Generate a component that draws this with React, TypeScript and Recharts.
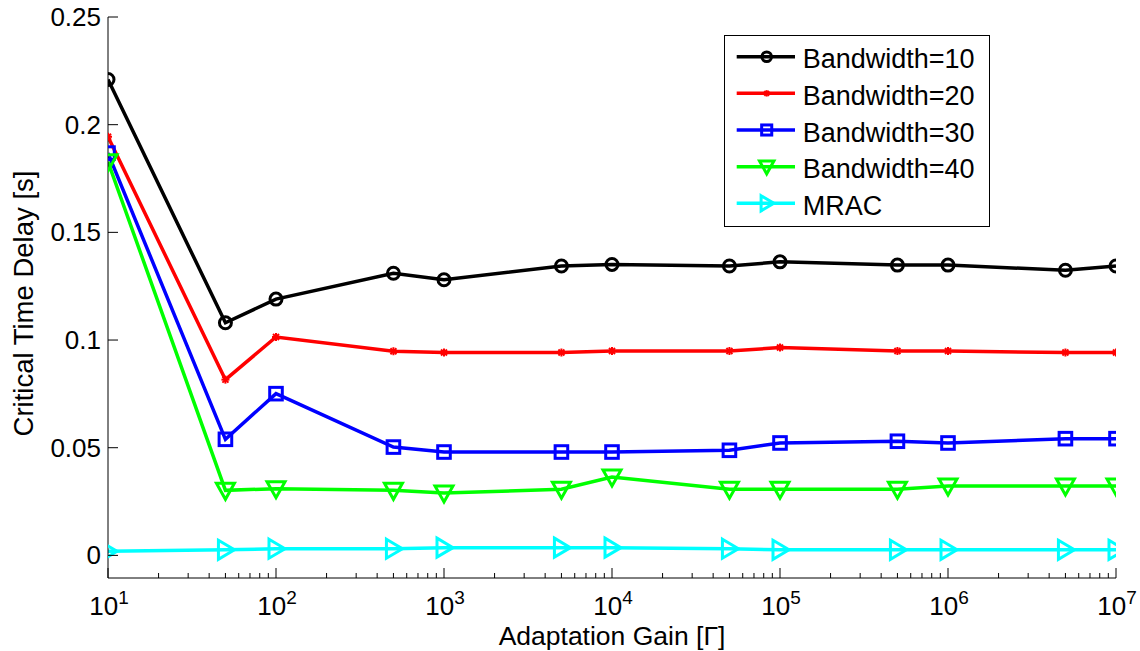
import React from 'react';
import { LineChart, Line, XAxis, YAxis, Legend } from 'recharts';

const gains = [10, 50, 100, 500, 1000, 5000, 1e4, 5e4, 1e5, 5e5, 1e6, 5e6, 1e7];
const bw10 = [0.221, 0.108, 0.119, 0.131, 0.128, 0.1344, 0.1351, 0.1344, 0.1363, 0.1348, 0.1348, 0.1324, 0.1344];
const bw20 = [0.1944, 0.0816, 0.1014, 0.0948, 0.0942, 0.0942, 0.0949, 0.0949, 0.0965, 0.0949, 0.0949, 0.0942, 0.0942];
const bw30 = [0.1868, 0.0539, 0.0751, 0.0503, 0.048, 0.048, 0.048, 0.0488, 0.0522, 0.053, 0.0522, 0.0542, 0.0542];
const bw40 = [0.1828, 0.0302, 0.031, 0.0302, 0.029, 0.0307, 0.0364, 0.0307, 0.0307, 0.0307, 0.0322, 0.0322, 0.0322];
const mrac = [0.0019, 0.0026, 0.0031, 0.0031, 0.0036, 0.0036, 0.0036, 0.0031, 0.0026, 0.0026, 0.0026, 0.0026, 0.0026];

const majorXTicks = [10, 100, 1000, 1e4, 1e5, 1e6, 1e7];
const minorMultipliers = [2, 3, 4, 5, 6, 7, 8, 9];
const yTicks = [0, 0.05, 0.1, 0.15, 0.2, 0.25];
const yTickLabels = ['0', '0.05', '0.1', '0.15', '0.2', '0.25'];
const xDomain = [10, 1e7];
const yDomain = [-0.0105, 0.25];

const FONT = '"Liberation Sans", Arial, Helvetica, sans-serif';

const allXTicks: number[] = [];
majorXTicks.forEach((m, i) => {
  allXTicks.push(m);
  if (i < majorXTicks.length - 1) minorMultipliers.forEach((k) => allXTicks.push(m * k));
});

type Shape = 'circle' | 'star' | 'square' | 'down' | 'right';
const series: { name: string; color: string; shape: Shape; values: number[] }[] = [
  { name: 'Bandwidth=10', color: '#000000', shape: 'circle', values: bw10 },
  { name: 'Bandwidth=20', color: '#ff0000', shape: 'star', values: bw20 },
  { name: 'Bandwidth=30', color: '#0000ff', shape: 'square', values: bw30 },
  { name: 'Bandwidth=40', color: '#00ff00', shape: 'down', values: bw40 },
  { name: 'MRAC', color: '#00ffff', shape: 'right', values: mrac },
];

function marker(shape: Shape, cx: number, cy: number, color: string, s = 1, key?: string) {
  const sw = 3;
  if (shape === 'circle') {
    return <circle key={key} cx={cx} cy={cy} r={6 * s} fill="none" stroke={color} strokeWidth={sw} />;
  }
  if (shape === 'square') {
    const h = 6.3 * s;
    return <rect key={key} x={cx - h} y={cy - h} width={2 * h} height={2 * h} fill="none" stroke={color} strokeWidth={sw} />;
  }
  if (shape === 'down') {
    const w = 9 * s, t = 7 * s, b = 9 * s;
    return <polygon key={key} points={`${cx - w},${cy - t} ${cx + w},${cy - t} ${cx},${cy + b}`} fill="none" stroke={color} strokeWidth={sw} strokeLinejoin="miter" />;
  }
  if (shape === 'right') {
    const l = 7 * s, r = 9 * s, h = 9.5 * s;
    return <polygon key={key} points={`${cx - l},${cy - h} ${cx + r},${cy} ${cx - l},${cy + h}`} fill="none" stroke={color} strokeWidth={sw} strokeLinejoin="miter" />;
  }
  const a = 4 * s, d = 3 * s;
  return (
    <g key={key} stroke={color} strokeWidth={2}>
      <line x1={cx - a} x2={cx + a} y1={cy} y2={cy} />
      <line x1={cx} x2={cx} y1={cy - a} y2={cy + a} />
      <line x1={cx - d} x2={cx + d} y1={cy - d} y2={cy + d} />
      <line x1={cx - d} x2={cx + d} y1={cy + d} y2={cy - d} />
    </g>
  );
}

const isMajor = (v: number) => majorXTicks.some((m) => Math.abs(m - v) < 1e-6 * m);

const BottomTick = (props: any) => {
  const { x, y, payload } = props;
  const v = payload.value;
  const major = isMajor(v);
  const exp = Math.round(Math.log10(v));
  return (
    <g>
      <line x1={x} x2={x} y1={y} y2={y - (major ? 10 : 5)} stroke="#000" strokeWidth={1} />
      {major && (
        <text x={x + 1} y={y + 37} textAnchor="middle" fontFamily={FONT} fontSize={26} fill="#000">
          <tspan>10</tspan>
          <tspan dy={-11} fontSize={19}>{exp}</tspan>
        </text>
      )}
    </g>
  );
};

const TopTick = (props: any) => {
  const { x, y, payload } = props;
  const major = isMajor(payload.value);
  return <line x1={x} x2={x} y1={y} y2={y + (major ? 10 : 5)} stroke="#000" strokeWidth={1} />;
};

const LeftTick = (props: any) => {
  const { x, y, payload, index } = props;
  const label = yTickLabels[yTicks.indexOf(payload.value)] ?? String(payload.value);
  return (
    <g key={index}>
      <line x1={x} x2={x + 10} y1={y} y2={y} stroke="#000" strokeWidth={1} />
      <text x={x - 7} y={y + 9} textAnchor="end" fontFamily={FONT} fontSize={26} fill="#000">{label}</text>
    </g>
  );
};

const RightTick = (props: any) => {
  const { x, y } = props;
  return <line x1={x} x2={x - 10} y1={y} y2={y} stroke="#000" strokeWidth={1} />;
};

const XLabel = (props: any) => {
  const vb = props.viewBox || { x: 108, y: 578, width: 1008, height: 73 };
  return (
    <text x={vb.x + vb.width / 2} y={vb.y + 67} textAnchor="middle" fontFamily={FONT} fontSize={26.5} fill="#000">
      Adaptation Gain [Γ]
    </text>
  );
};

const YLabel = (props: any) => {
  const vb = props.viewBox || { x: 0, y: 17, width: 108, height: 561 };
  const cx = vb.x + 33;
  const cy = vb.y + vb.height / 2 + 6;
  return (
    <text x={cx} y={cy} transform={`rotate(-90, ${cx}, ${cy})`} textAnchor="middle" fontFamily={FONT} fontSize={27.5} fill="#000">
      Critical Time Delay [s]
    </text>
  );
};

const LegendBox = () => (
  <svg width={267} height={193} style={{ display: 'block' }}>
    <rect x={0.5} y={0.5} width={265} height={191} fill="#ffffff" stroke="#000" strokeWidth={1} />
    {series.map((s, i) => {
      const cy = 21.7 + i * 36.65;
      return (
        <g key={s.name}>
          <line x1={12.7} x2={71} y1={cy} y2={cy} stroke={s.color} strokeWidth={3.5} />
          {marker(s.shape, 42.7, cy, s.color, 0.8)}
          <text x={78.7} y={cy + 11.6} fontFamily={FONT} fontSize={27} fill="#000">{s.name}</text>
        </g>
      );
    })}
  </svg>
);

const seriesData = series.map((s) => s.values.map((v, i) => ({ x: gains[i], y: v })));

export default function App() {
  return (
    <div style={{ position: 'absolute', left: 0, top: 0, width: 1140, height: 651, background: '#fff' }}>
      <LineChart width={1140} height={651} margin={{ top: 17, right: 24, left: 0, bottom: 0 }}>
        <XAxis
          xAxisId="bottom"
          dataKey="x"
          type="number"
          scale="log"
          domain={xDomain}
          ticks={allXTicks}
          interval={0}
          allowDataOverflow
          height={73}
          tickSize={0}
          tickMargin={0}
          tickLine={false}
          axisLine={{ stroke: '#000', strokeWidth: 1 }}
          tick={<BottomTick />}
          label={<XLabel />}
        />
        <XAxis
          xAxisId="top"
          orientation="top"
          dataKey="x"
          type="number"
          scale="log"
          domain={xDomain}
          ticks={allXTicks}
          interval={0}
          allowDataOverflow
          height={0}
          tickSize={0}
          tickMargin={0}
          tickLine={false}
          axisLine={{ stroke: '#000', strokeWidth: 1 }}
          tick={<TopTick />}
        />
        <YAxis
          yAxisId="left"
          type="number"
          domain={yDomain}
          ticks={yTicks}
          interval={0}
          allowDataOverflow
          width={108}
          tickSize={0}
          tickMargin={0}
          tickLine={false}
          axisLine={{ stroke: '#000', strokeWidth: 1 }}
          tick={<LeftTick />}
          label={<YLabel />}
        />
        <YAxis
          yAxisId="right"
          orientation="right"
          type="number"
          domain={yDomain}
          ticks={yTicks}
          interval={0}
          allowDataOverflow
          width={0}
          tickSize={0}
          tickMargin={0}
          tickLine={false}
          axisLine={{ stroke: '#000', strokeWidth: 1 }}
          tick={<RightTick />}
        />
        <Line
          xAxisId="top"
          yAxisId="right"
          data={seriesData[0]}
          dataKey="y"
          stroke="none"
          dot={false}
          activeDot={false}
          legendType="none"
          isAnimationActive={false}
        />
        {series.map((s, idx) => (
          <Line
            key={s.name}
            xAxisId="bottom"
            yAxisId="left"
            data={seriesData[idx]}
            dataKey="y"
            name={s.name}
            stroke={s.color}
            strokeWidth={3.5}
            isAnimationActive={false}
            activeDot={false}
            dot={(p: any) => marker(s.shape, p.cx, p.cy, s.color, 1, `${s.name}-${p.index}`)}
          />
        ))}
        <Legend
          layout="vertical"
          align="center"
          verticalAlign="middle"
          content={() => <LegendBox />}
          wrapperStyle={{ position: 'absolute', left: 724, top: 35, width: 267, height: 193 }}
        />
      </LineChart>
    </div>
  );
}
